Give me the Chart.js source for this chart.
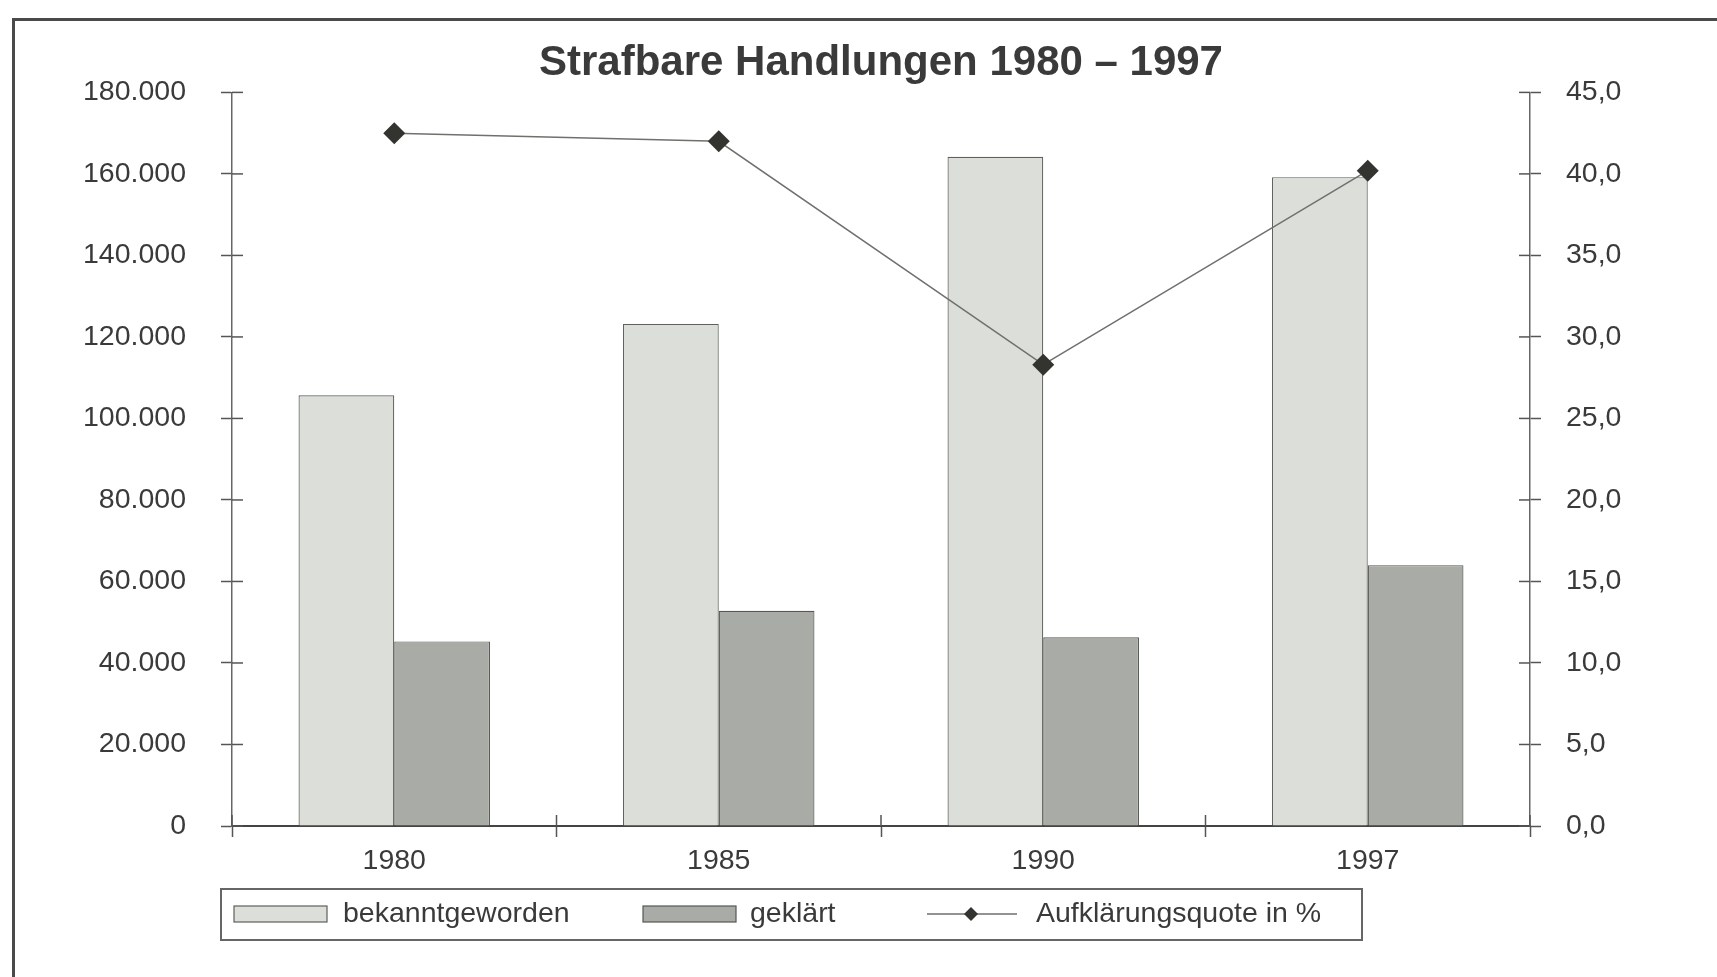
<!DOCTYPE html>
<html lang="de">
<head>
<meta charset="utf-8">
<title>Strafbare Handlungen 1980 – 1997</title>
<script src="https://cdn.jsdelivr.net/npm/chart.js@4.4.1/dist/chart.umd.min.js"></script>
<style>
  html, body { margin: 0; padding: 0; background: #fff; overflow: hidden; }
  #frame {
    position: absolute; left: 12px; top: 18px; width: 2000px; height: 1200px;
    border-left: 3px solid #4a4a4a; border-top: 3px solid #4a4a4a;
  }
  #distributionChart { position: absolute; left: 0; top: 0; }
</style>
</head>
<body>
<div id="frame"></div>
<canvas id="distributionChart" width="1717" height="977"></canvas>
<script>
// data
const years = ['1980', '1985', '1990', '1997'];
const bekannt = [105700, 123200, 164200, 159200];
const geklaert = [45300, 52800, 46300, 64000];
const quote = [42.5, 42.0, 28.3, 40.2];

const FONT = "'Liberation Sans', Arial, Helvetica, sans-serif";
const TEXT = '#3a3a3a';

// ticks in the original cross the axis line, chart.js only draws the outer half
const crossTicks = {
  id: 'crossTicks',
  afterDraw(chart) {
    const ctx = chart.ctx;
    const len = 11;
    ctx.save();
    ctx.strokeStyle = '#555';
    ctx.lineWidth = 1.5;
    ['y', 'y1'].forEach(function(id) {
      const s = chart.scales[id];
      const x0 = id === 'y' ? s.right : s.left;
      const dir = id === 'y' ? 1 : -1;
      s.ticks.forEach(function(t, i) {
        const py = s.getPixelForTick(i);
        ctx.beginPath();
        ctx.moveTo(x0, py);
        ctx.lineTo(x0 + dir * len, py);
        ctx.stroke();
      });
    });
    const xs = chart.scales.x;
    const step = (xs.right - xs.left) / years.length;
    for (let i = 0; i <= years.length; i++) {
      const px = xs.left + i * step;
      ctx.beginPath();
      ctx.moveTo(px, xs.top);
      ctx.lineTo(px, xs.top - len);
      ctx.stroke();
    }
    ctx.restore();
  }
};

// framed legend below the chart, like the original
const boxLegend = {
  id: 'boxLegend',
  afterDraw(chart) {
    const ctx = chart.ctx;
    const area = chart.chartArea;
    const ds = chart.data.datasets;
    const left = area.left - 11;
    const top = area.bottom + 63;
    const midY = top + 25;
    ctx.save();
    ctx.strokeStyle = '#666';
    ctx.lineWidth = 2;
    ctx.strokeRect(left, top, 1141, 51);

    ctx.font = '28.5px ' + FONT;
    ctx.fillStyle = TEXT;
    ctx.textBaseline = 'middle';

    // bar swatches
    [[0, 13, 122], [1, 422, 529]].forEach(function(it) {
      const d = ds[it[0]];
      ctx.fillStyle = d.backgroundColor;
      ctx.fillRect(left + it[1], midY - 8, 93, 16);
      ctx.strokeStyle = d.borderColor;
      ctx.lineWidth = 1.2;
      ctx.strokeRect(left + it[1], midY - 8, 93, 16);
      ctx.fillStyle = TEXT;
      ctx.fillText(d.label, left + it[2], midY);
    });

    // line swatch
    const ln = ds[2];
    ctx.strokeStyle = ln.borderColor;
    ctx.lineWidth = 1.5;
    ctx.beginPath();
    ctx.moveTo(left + 706, midY);
    ctx.lineTo(left + 796, midY);
    ctx.stroke();
    const cx = left + 750;
    ctx.fillStyle = ln.pointBackgroundColor;
    ctx.beginPath();
    ctx.moveTo(cx, midY - 7);
    ctx.lineTo(cx + 7, midY);
    ctx.lineTo(cx, midY + 7);
    ctx.lineTo(cx - 7, midY);
    ctx.closePath();
    ctx.fill();
    ctx.fillStyle = TEXT;
    ctx.fillText(ln.label, left + 815, midY);
    ctx.restore();
  }
};

document.addEventListener('DOMContentLoaded', function() {
  const ctx = document.getElementById('distributionChart');
  if (!ctx) return;

  try {
    new Chart(ctx, {
      type: 'bar',
      data: {
        labels: years,
        datasets: [{
          label: 'bekanntgeworden',
          data: bekannt,
          backgroundColor: '#dcdfd9',
          borderColor: '#5e605c',
          borderWidth: 1.2,
          yAxisID: 'y',
          order: 1
        }, {
          label: 'geklärt',
          data: geklaert,
          backgroundColor: '#a9aca6',
          borderColor: '#565853',
          borderWidth: 1.2,
          yAxisID: 'y',
          order: 1
        }, {
          type: 'line',
          label: 'Aufklärungsquote in %',
          data: quote,
          yAxisID: 'y1',
          borderColor: '#6f716d',
          borderWidth: 1.5,
          pointStyle: 'rectRot',
          pointRadius: 11,
          pointBackgroundColor: '#33342f',
          pointBorderColor: '#33342f',
          pointBorderWidth: 0,
          tension: 0,
          order: 0
        }]
      },
      options: {
        responsive: false,
        animation: false,
        datasets: {
          bar: { categoryPercentage: 0.59, barPercentage: 1.0 }
        },
        layout: { padding: { left: 0, right: 0, top: 0, bottom: 96 } },
        scales: {
          x: {
            afterFit: function(s) { s.height = 55; },
            grid: { drawOnChartArea: false, tickLength: 11, tickColor: '#555', tickWidth: 1.5, offset: true },
            border: { color: '#444', width: 2 },
            ticks: { color: TEXT, padding: 7, font: { family: FONT, size: 28.5 } }
          },
          y: {
            position: 'left',
            min: 0,
            max: 180000,
            afterFit: function(s) { s.width = 232; },
            grid: { drawOnChartArea: false, tickLength: 11, tickColor: '#555', tickWidth: 1.5 },
            border: { color: '#666', width: 1.5 },
            ticks: {
              stepSize: 20000,
              color: TEXT,
              padding: 35,
              font: { family: FONT, size: 28.5 },
              callback: function(v) { return v.toLocaleString('de-DE'); }
            }
          },
          y1: {
            position: 'right',
            min: 0,
            max: 45,
            afterFit: function(s) { s.width = 187; },
            grid: { drawOnChartArea: false, tickLength: 11, tickColor: '#555', tickWidth: 1.5 },
            border: { color: '#666', width: 1.5 },
            ticks: {
              stepSize: 5,
              color: TEXT,
              padding: 25,
              font: { family: FONT, size: 28.5 },
              callback: function(v) { return v.toFixed(1).replace('.', ','); }
            }
          }
        },
        plugins: {
          legend: { display: false },
          tooltip: { enabled: false },
          title: {
            display: true,
            fullSize: false,
            text: 'Strafbare Handlungen 1980 – 1997',
            color: TEXT,
            font: { family: FONT, size: 42, weight: 'bold' },
            padding: { top: 38, bottom: 4 }
          }
        }
      },
      plugins: [crossTicks, boxLegend]
    });
  } catch (error) {
    console.error('Chart error:', error);
  }
});
</script>
</body>
</html>
